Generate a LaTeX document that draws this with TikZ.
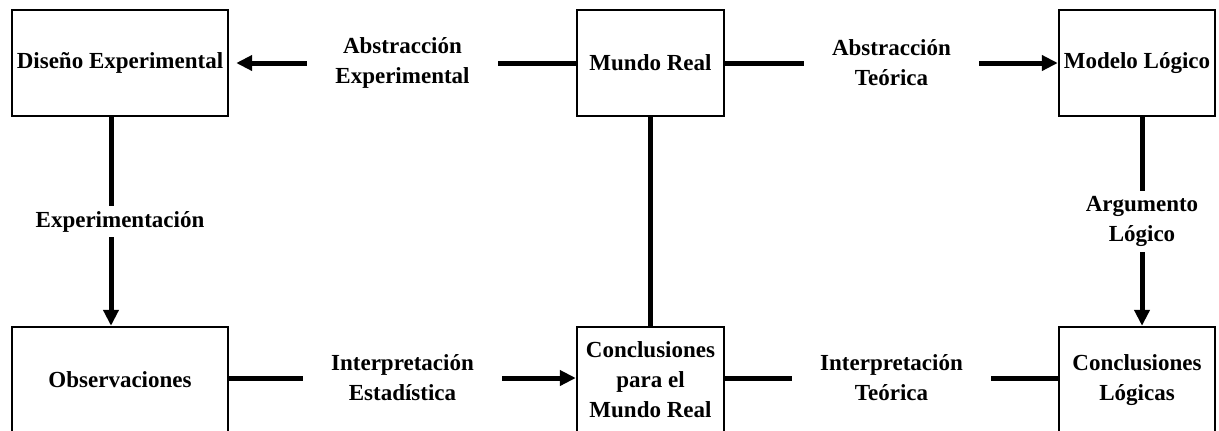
\documentclass[tikz,border=0pt]{standalone}
\usepackage{fontspec}
\setmainfont{Liberation Serif}
\usetikzlibrary{arrows.meta}

\begin{document}
\begin{tikzpicture}[x=0.5pt,y=-0.5pt,
  font=\fontsize{11.5}{15}\selectfont\bfseries,
  caja/.style={draw,line width=1.2pt,minimum height=53pt,align=center,inner sep=0pt},
  conector/.style={line width=2.5pt},
  flecha/.style={conector,-{Triangle[length=8pt,width=7.5pt]}},
  etiqueta/.style={fill=white,align=center,inner xsep=14pt,inner ysep=2.5pt}]
\useasboundingbox (0,0) rectangle (1219,430);

\node[caja,minimum width=108pt] (diseno) at (120,63) {Diseño Experimental};
\node[caja,minimum width=73.5pt] (mundo) at (650.5,63) {Mundo Real};
\node[caja,minimum width=78pt] (modelo) at (1137,63) {Modelo Lógico};

\node[caja,minimum width=108pt] (obs) at (120,380) {Observaciones};
\node[caja,minimum width=73.5pt] (concl) at (650.5,380) {Conclusiones\\para el\\Mundo Real};
\node[caja,minimum width=78pt] (logicas) at (1137,380) {Conclusiones\\Lógicas};

\draw[flecha,shorten >=3.5pt] (mundo) -- node[etiqueta] {Abstracción\\Experimental} (diseno);
\draw[flecha] (mundo) -- node[etiqueta] {Abstracción\\Teórica} (modelo);
\draw[flecha] ([xshift=-4.5pt]diseno.south) -- node[etiqueta,xshift=4.5pt] {Experimentación} ([xshift=-4.5pt]obs.north);
\draw[flecha] ([xshift=2.5pt]modelo.south) -- node[etiqueta] {Argumento\\Lógico} ([xshift=2.5pt]logicas.north);
\draw[conector] (mundo) -- (concl);
\draw[flecha] ([yshift=1pt]obs.east) -- node[etiqueta] {Interpretación\\Estadística} ([yshift=1pt]concl.west);
\draw[conector] ([yshift=1pt]concl.east) -- node[etiqueta] {Interpretación\\Teórica} ([yshift=1pt]logicas.west);
\end{tikzpicture}
\end{document}
